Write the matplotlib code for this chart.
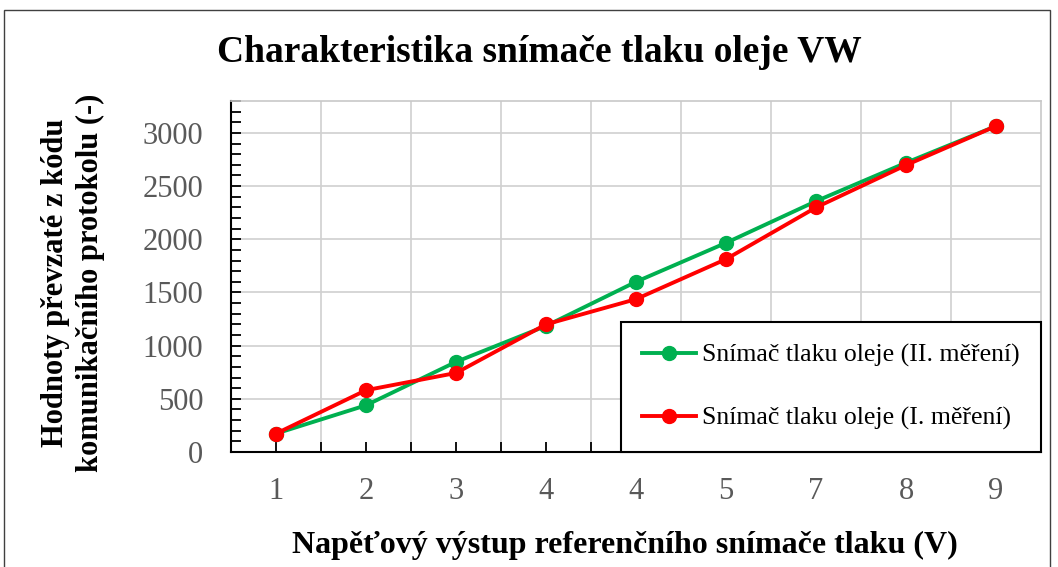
import matplotlib
matplotlib.use("Agg")
import matplotlib.pyplot as plt
from matplotlib.patches import Rectangle
import numpy as np

# data
categories = ['1', '2', '3', '4', '4', '5', '7', '8', '9']
mereni_2 = [173, 439, 847, 1185, 1600, 1966, 2358, 2719, 3064]
mereni_1 = [173, 581, 743, 1200, 1437, 1813, 2299, 2697, 3064]

label_2 = 'Snímač tlaku oleje (II. měření)'
label_1 = 'Snímač tlaku oleje (I. měření)'

plt.rcParams['font.family'] = ['Liberation Serif', 'DejaVu Serif']

W, H = 1058, 567
fig = plt.figure(figsize=(W / 100, H / 100), dpi=100)
ax = fig.add_axes([231 / W, 115 / H, 810 / W, 351 / H])

# outer chart frame
fig.patches.append(Rectangle((4 / W, -0.05), 1046 / W, 1.05 - 10 / H,
                             transform=fig.transFigure, fill=False,
                             edgecolor='#404040', linewidth=1.0))

x = np.arange(len(categories))
ax.plot(x, mereni_2, color='#00B050', lw=2.8, marker='o', ms=10,
        label=label_2, zorder=3)
ax.plot(x, mereni_1, color='#FF0000', lw=2.8, marker='o', ms=10,
        label=label_1, zorder=4)

ax.set_xlim(-0.5, len(categories) - 0.5)
ax.set_ylim(0, 3300)
ax.set_xticks(x)
ax.set_xticklabels(categories)
ax.set_xticks(np.arange(0.5, len(categories) - 0.5), minor=True)
ax.set_yticks(np.arange(0, 3001, 500))
ax.set_yticks(np.arange(0, 3301, 100), minor=True)

ax.grid(True, which='major', axis='y', color='#D0D0D0', lw=1.2)
ax.grid(True, which='minor', axis='x', color='#D0D0D0', lw=1.2)
ax.set_axisbelow(True)

for side in ['top', 'right']:
    ax.spines[side].set_color('#C8C8C8')
    ax.spines[side].set_linewidth(1.2)
for side in ['left', 'bottom']:
    ax.spines[side].set_color('black')
    ax.spines[side].set_linewidth(1.5)

ax.tick_params(axis='both', which='both', direction='in', length=7,
               width=1.3, color='black', labelcolor='#595959',
               labelsize=22)
ax.tick_params(axis='x', which='both', pad=18)
ax.tick_params(axis='y', which='both', pad=20)

# titles placed in figure coordinates like the original chart
fig.text(539 / W, 1 - 52 / H, 'Charakteristika snímače tlaku oleje VW',
         fontsize=27, fontweight='bold', ha='center', va='center')
fig.text(625 / W, 1 - 545 / H,
         'Napěťový výstup referenčního snímače tlaku (V)',
         fontsize=23, fontweight='bold', ha='center', va='center')
fig.text(73 / W, 1 - 283 / H,
         'Hodnoty převzaté z kódu\nkomunikačního protokolu (-)',
         fontsize=22, fontweight='bold', ha='center', va='center',
         rotation=90, linespacing=1.25, multialignment='center')

leg = ax.legend(loc='lower right', bbox_to_anchor=(1.0, 0.0),
                borderaxespad=0, fancybox=False, edgecolor='black',
                fontsize=18.5, handlelength=2.1, labelspacing=1.55,
                borderpad=0.85, handletextpad=0.2, framealpha=1)
leg.get_frame().set_linewidth(1.5)

fig.savefig('out.png', dpi=100)
